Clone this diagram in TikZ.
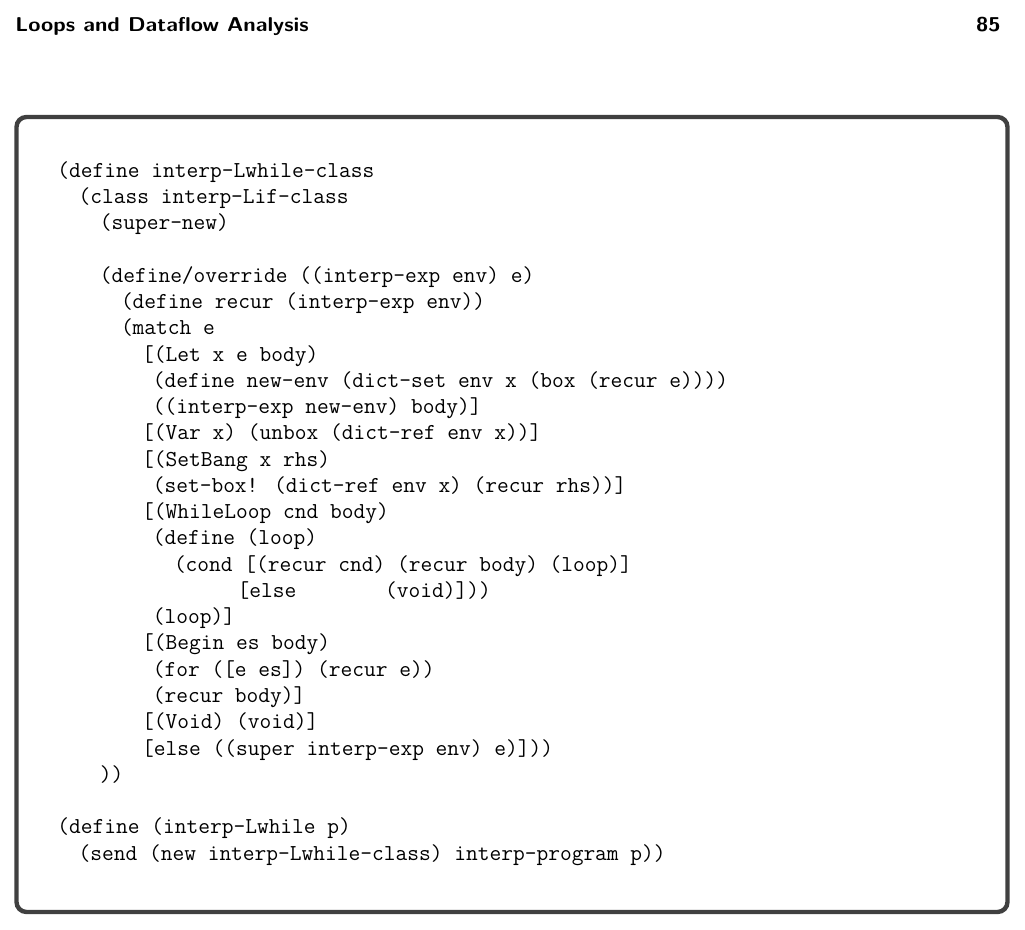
\documentclass[tikz,border=0pt]{standalone}
\usepackage{graphicx}
\begin{document}
\begin{tikzpicture}[x=0.5pt,y=-0.5pt,
  codeline/.style={anchor=base west,inner sep=0pt,font=\fontsize{11.4}{13}\selectfont\ttfamily},
  headtext/.style={inner sep=0pt,font=\fontsize{10}{12}\selectfont\sffamily\bfseries},
  framebox/.style={draw=black!75,line width=2.2pt,rounded corners=5pt}]
\useasboundingbox (0,0) rectangle (1025,930);
\node[headtext,anchor=base west] (title) at (15,31.5) {\scalebox{1.11}[1]{Loops and Dataflow Analysis}};
\node[headtext,anchor=base east] (page) at (1001,31.5) {\scalebox{1.11}[1]{85}};
\draw[framebox] (16.5,117) rectangle (1007.5,912);
\def\cx#1{57+#1*10.6}
\def\ly#1{177.3+(#1-1)*26.26}
\node[codeline] (l1) at ({\cx{0}},{\ly{1}}) {(define interp-Lwhile-class};
\node[codeline] (l2) at ({\cx{2}},{\ly{2}}) {(class interp-Lif-class};
\node[codeline] (l3) at ({\cx{4}},{\ly{3}}) {(super-new)};
\node[codeline] (l5) at ({\cx{4}},{\ly{5}}) {(define/override ((interp-exp env) e)};
\node[codeline] (l6) at ({\cx{6}},{\ly{6}}) {(define recur (interp-exp env))};
\node[codeline] (l7) at ({\cx{6}},{\ly{7}}) {(match e};
\node[codeline] (l8) at ({\cx{8}},{\ly{8}}) {[(Let x e body)};
\node[codeline] (l9) at ({\cx{9}},{\ly{9}}) {(define new-env (dict-set env x (box (recur e))))};
\node[codeline] (l10) at ({\cx{9}},{\ly{10}}) {((interp-exp new-env) body)]};
\node[codeline] (l11) at ({\cx{8}},{\ly{11}}) {[(Var x) (unbox (dict-ref env x))]};
\node[codeline] (l12) at ({\cx{8}},{\ly{12}}) {[(SetBang x rhs)};
\node[codeline] (l13) at ({\cx{9}},{\ly{13}}) {(set-box! (dict-ref env x) (recur rhs))]};
\node[codeline] (l14) at ({\cx{8}},{\ly{14}}) {[(WhileLoop cnd body)};
\node[codeline] (l15) at ({\cx{9}},{\ly{15}}) {(define (loop)};
\node[codeline] (l16) at ({\cx{11}},{\ly{16}}) {(cond [(recur cnd) (recur body) (loop)]};
\node[codeline] (l17) at ({\cx{17}},{\ly{17}}) {[else\hspace{44.4pt}(void)]))};
\node[codeline] (l18) at ({\cx{9}},{\ly{18}}) {(loop)]};
\node[codeline] (l19) at ({\cx{8}},{\ly{19}}) {[(Begin es body)};
\node[codeline] (l20) at ({\cx{9}},{\ly{20}}) {(for ([e es]) (recur e))};
\node[codeline] (l21) at ({\cx{9}},{\ly{21}}) {(recur body)]};
\node[codeline] (l22) at ({\cx{8}},{\ly{22}}) {[(Void) (void)]};
\node[codeline] (l23) at ({\cx{8}},{\ly{23}}) {[else ((super interp-exp env) e)]))};
\node[codeline] (l24) at ({\cx{4}},{\ly{24}}) {))};
\node[codeline] (l26) at ({\cx{0}},{\ly{26}}) {(define (interp-Lwhile p)};
\node[codeline] (l27) at ({\cx{2}},{\ly{27}}) {(send (new interp-Lwhile-class) interp-program p))};
\end{tikzpicture}
\end{document}
